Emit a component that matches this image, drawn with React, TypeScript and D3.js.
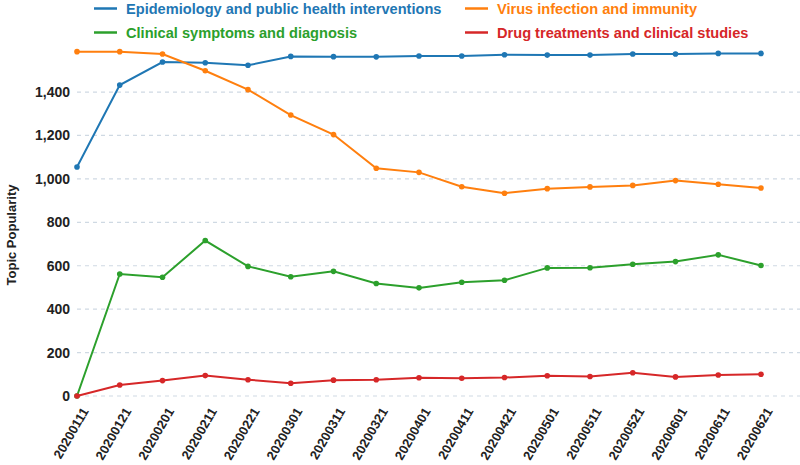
import React from "react";
import * as d3 from "d3";

const dates = [
  "20200111", "20200121", "20200201", "20200211", "20200221", "20200301",
  "20200311", "20200321", "20200401", "20200411", "20200421", "20200501",
  "20200511", "20200521", "20200601", "20200611", "20200621",
];

const epidemiology = [1055, 1432, 1538, 1535, 1523, 1564, 1563, 1562, 1566, 1566, 1572, 1570, 1570, 1575, 1575, 1578, 1578];
const virus = [1586, 1586, 1575, 1498, 1411, 1294, 1204, 1049, 1030, 964, 934, 955, 963, 970, 992, 975, 958];
const clinical = [0, 562, 547, 716, 597, 549, 574, 518, 498, 524, 533, 590, 591, 607, 619, 650, 601];
const drug = [0, 51, 71, 94, 75, 59, 73, 75, 84, 82, 85, 93, 90, 107, 88, 97, 100];

const yTicks = [0, 200, 400, 600, 800, 1000, 1200, 1400];

const seriesNames = [
  "Epidemiology and public health interventions",
  "Virus infection and immunity",
  "Clinical symptoms and diagnosis",
  "Drug treatments and clinical studies",
];
const seriesValues = [epidemiology, virus, clinical, drug];
const colors = ["#1f77b4", "#ff7f0e", "#2ca02c", "#d62728"];

const W = 800;
const H = 465;
const FONT = "'Liberation Sans', Arial, sans-serif";

export default function App() {
  const x = d3.scalePoint<string>().domain(dates).range([77, 761]);
  const y = d3.scaleLinear().domain([0, 1600]).range([396, 48.6]);
  const line = d3
    .line<number>()
    .x((_, i) => x(dates[i]) as number)
    .y((d) => y(d));

  const legendPos = [
    { lx: 94, ty: 8.5 },
    { lx: 465, ty: 8.5 },
    { lx: 94, ty: 32.5 },
    { lx: 465, ty: 32.5 },
  ];

  return (
    <svg
      width={W}
      height={H}
      style={{ position: "absolute", left: 0, top: 0, background: "#fff" }}
      fontFamily={FONT}
    >
      {/* grid */}
      {yTicks.map((t) => (
        <line
          key={"g" + t}
          x1={77}
          x2={800}
          y1={y(t)}
          y2={y(t)}
          stroke="#cfd9e3"
          strokeWidth={1.2}
          strokeDasharray="4 4"
        />
      ))}
      {/* y tick labels */}
      {yTicks.map((t) => (
        <text
          key={"t" + t}
          x={70}
          y={y(t)}
          textAnchor="end"
          dominantBaseline="central"
          fontSize={14}
          fontWeight="bold"
          fill="#222"
        >
          {d3.format(",")(t)}
        </text>
      ))}
      {/* y title */}
      <text
        transform={`translate(11,235) rotate(-90)`}
        textAnchor="middle"
        dominantBaseline="central"
        fontSize={13}
        fontWeight="bold"
        fill="#222"
      >
        Topic Popularity
      </text>
      {/* x labels */}
      {dates.map((d) => (
        <text
          key={"x" + d}
          transform={`translate(${(x(d) as number) + 12},411) rotate(-60)`}
          textAnchor="end"
          fontSize={13}
          fontWeight="bold"
          fill="#222"
        >
          {d}
        </text>
      ))}
      {/* series */}
      {seriesValues.map((vals, si) => (
        <g key={"s" + si}>
          <path d={line(vals) || ""} fill="none" stroke={colors[si]} strokeWidth={2} />
          {vals.map((v, i) => (
            <circle key={i} cx={x(dates[i]) as number} cy={y(v)} r={2.8} fill={colors[si]} />
          ))}
        </g>
      ))}
      {/* legend */}
      {seriesNames.map((n, i) => (
        <g key={"l" + i}>
          <line
            x1={legendPos[i].lx}
            x2={legendPos[i].lx + 23}
            y1={legendPos[i].ty}
            y2={legendPos[i].ty}
            stroke={colors[i]}
            strokeWidth={2.5}
          />
          <text
            x={legendPos[i].lx + 32}
            y={legendPos[i].ty}
            dominantBaseline="central"
            fontSize={14.6}
            fontWeight="bold"
            fill={colors[i]}
          >
            {n}
          </text>
        </g>
      ))}
    </svg>
  );
}
